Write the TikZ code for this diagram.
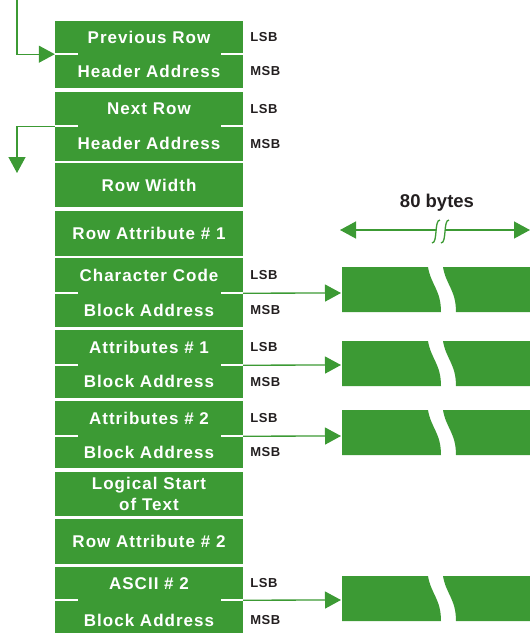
\documentclass[tikz,border=0pt]{standalone}
\usepackage{fontspec}
\setmainfont{Liberation Sans}
\newfontfamily\cellfont[LetterSpace=6]{Liberation Sans}
\newfontfamily\sidefont[LetterSpace=4]{Liberation Sans}
\usetikzlibrary{positioning, arrows.meta}
\definecolor{hpgreen}{RGB}{60,154,52}
\definecolor{ink}{RGB}{35,31,32}

\begin{document}
\begin{tikzpicture}[x=1pt, y=-1pt,
  cell/.style={rectangle, fill=hpgreen, text=white, minimum width=188pt, inner sep=0pt, align=center, font=\cellfont\bfseries\fontsize{17}{21}\selectfont},
  side/.style={inner sep=0pt, text=ink, font=\sidefont\bfseries\fontsize{13}{15}\selectfont},
  tick/.style={white, line width=1.5pt},
  link/.style={hpgreen, line width=1.3pt, -{Triangle[length=16pt,width=17pt]}},
  wave/.style={hpgreen, line width=1.3pt},
  buf/.style={fill=hpgreen}]
\useasboundingbox (0,0) rectangle (530,633);

% row header cells
\node[cell, minimum height=33pt] (prevrow) at (149,37.5) {Previous Row};
\node[cell, minimum height=34pt, below=0pt of prevrow] (prevhdr) {Header Address};
\node[cell, minimum height=34pt] (nextrow) at (149,109) {Next Row};
\node[cell, minimum height=35pt, below=0pt of nextrow] (nexthdr) {Header Address};
\node[cell, minimum height=44pt] (rowwidth) at (149,185) {Row Width};
\node[cell, minimum height=45pt] (rowattra) at (149,233.5) {Row Attribute \# 1};
\node[cell, minimum height=35pt] (charcode) at (149,275.5) {Character Code};
\node[cell, minimum height=34pt, below=0pt of charcode] (charblk) {Block Address};
\node[cell, minimum height=35pt] (attra) at (149,347.5) {Attributes \# 1};
\node[cell, minimum height=33pt, below=0pt of attra] (attrablk) {Block Address};
\node[cell, minimum height=35pt] (attrb) at (149,418.5) {Attributes \# 2};
\node[cell, minimum height=32pt, below=0pt of attrb] (attrbblk) {Block Address};
\node[cell, minimum height=44pt] (logical) at (149,494) {Logical Start\\of Text};
\node[cell, minimum height=45pt] (rowattrb) at (149,541.5) {Row Attribute \# 2};
\node[cell, minimum height=33pt] (ascii) at (149,583.5) {ASCII \# 2};
\node[cell, minimum height=40pt, below=0pt of ascii] (asciiblk) {Block Address};

% split marks
\draw[tick] (prevrow.south west) -- ++(23,0);
\draw[tick] (prevrow.south east) -- ++(-22,0);
\draw[tick] (nextrow.south west) -- ++(23,0);
\draw[tick] (nextrow.south east) -- ++(-22,0);
\draw[tick] (charcode.south west) -- ++(23,0);
\draw[tick] (charcode.south east) -- ++(-22,0);
\draw[tick] (attra.south west) -- ++(23,0);
\draw[tick] (attra.south east) -- ++(-22,0);
\draw[tick] (attrb.south west) -- ++(23,0);
\draw[tick] (attrb.south east) -- ++(-22,0);
\draw[tick] (ascii.south west) -- ++(23,0);
\draw[tick] (ascii.south east) -- ++(-22,0);

% byte order
\node[side, right=7pt of prevrow] (prevlsb) {LSB};
\node[side, right=7pt of prevhdr] (prevmsb) {MSB};
\node[side, right=7pt of nextrow] (nextlsb) {LSB};
\node[side, right=7pt of nexthdr] (nextmsb) {MSB};
\node[side, right=7pt of charcode] (charlsb) {LSB};
\node[side, right=7pt of charblk] (charmsb) {MSB};
\node[side, right=7pt of attra] (attralsb) {LSB};
\node[side, right=7pt of attrablk] (attramsb) {MSB};
\node[side, right=7pt of attrb] (attrblsb) {LSB};
\node[side, right=7pt of attrbblk] (attrbmsb) {MSB};
\node[side, right=7pt of ascii] (asciilsb) {LSB};
\node[side, right=7pt of asciiblk] (asciimsb) {MSB};

% row buffers
\fill[buf] (342,267) -- (428,267) .. controls (431,285) and (441,290) .. (441,312) -- (342,312) -- cycle;
\fill[buf] (443,267) .. controls (446,285) and (456,290) .. (456,312) -- (535,312) -- (535,267) -- cycle;
\fill[buf] (342,341) -- (428,341) .. controls (431,359) and (441,364) .. (441,386) -- (342,386) -- cycle;
\fill[buf] (443,341) .. controls (446,359) and (456,364) .. (456,386) -- (535,386) -- (535,341) -- cycle;
\fill[buf] (342,410) -- (428,410) .. controls (431,428) and (441,433) .. (441,455) -- (342,455) -- cycle;
\fill[buf] (443,410) .. controls (446,428) and (456,433) .. (456,455) -- (535,455) -- (535,410) -- cycle;
\fill[buf] (342,576) -- (428,576) .. controls (431,594) and (441,599) .. (441,621) -- (342,621) -- cycle;
\fill[buf] (443,576) .. controls (446,594) and (456,599) .. (456,621) -- (535,621) -- (535,576) -- cycle;

\coordinate (charbuf) at (341,293);
\coordinate (attrabuf) at (341,365);
\coordinate (attrbbuf) at (341,436);
\coordinate (asciibuf) at (341,600);
\coordinate (prevsrc) at (17,0);
\coordinate (nextdst) at (17,173);

% pointers
\draw[link] (prevsrc) |- (prevrow.south west);
\draw[link] (nextrow.south west) -| (nextdst);
\draw[link] (charcode.south east) -- (charbuf);
\draw[link] (attra.south east) -- (attrabuf);
\draw[link] (attrb.south east) -- (attrbbuf);
\draw[link] (ascii.south east) -- (asciibuf);

% 80 bytes
\coordinate (bytesl) at (340,230);
\coordinate (bytesr) at (530,230);
\coordinate (breakl) at (436,230);
\coordinate (breakr) at (445,230);
\node[side, font=\bfseries\fontsize{18.5}{20}\selectfont] (bytes) at (437,203) {80 bytes};
\draw[link, {Triangle[length=16pt,width=17pt]}-] (bytesl) -- (breakl);
\draw[link] (breakr) -- (bytesr);
\draw[wave] (432,243) .. controls (438,243) and (434,220) .. (440,220);
\draw[wave] (441,243) .. controls (447,243) and (443,220) .. (449,220);
\end{tikzpicture}
\end{document}
